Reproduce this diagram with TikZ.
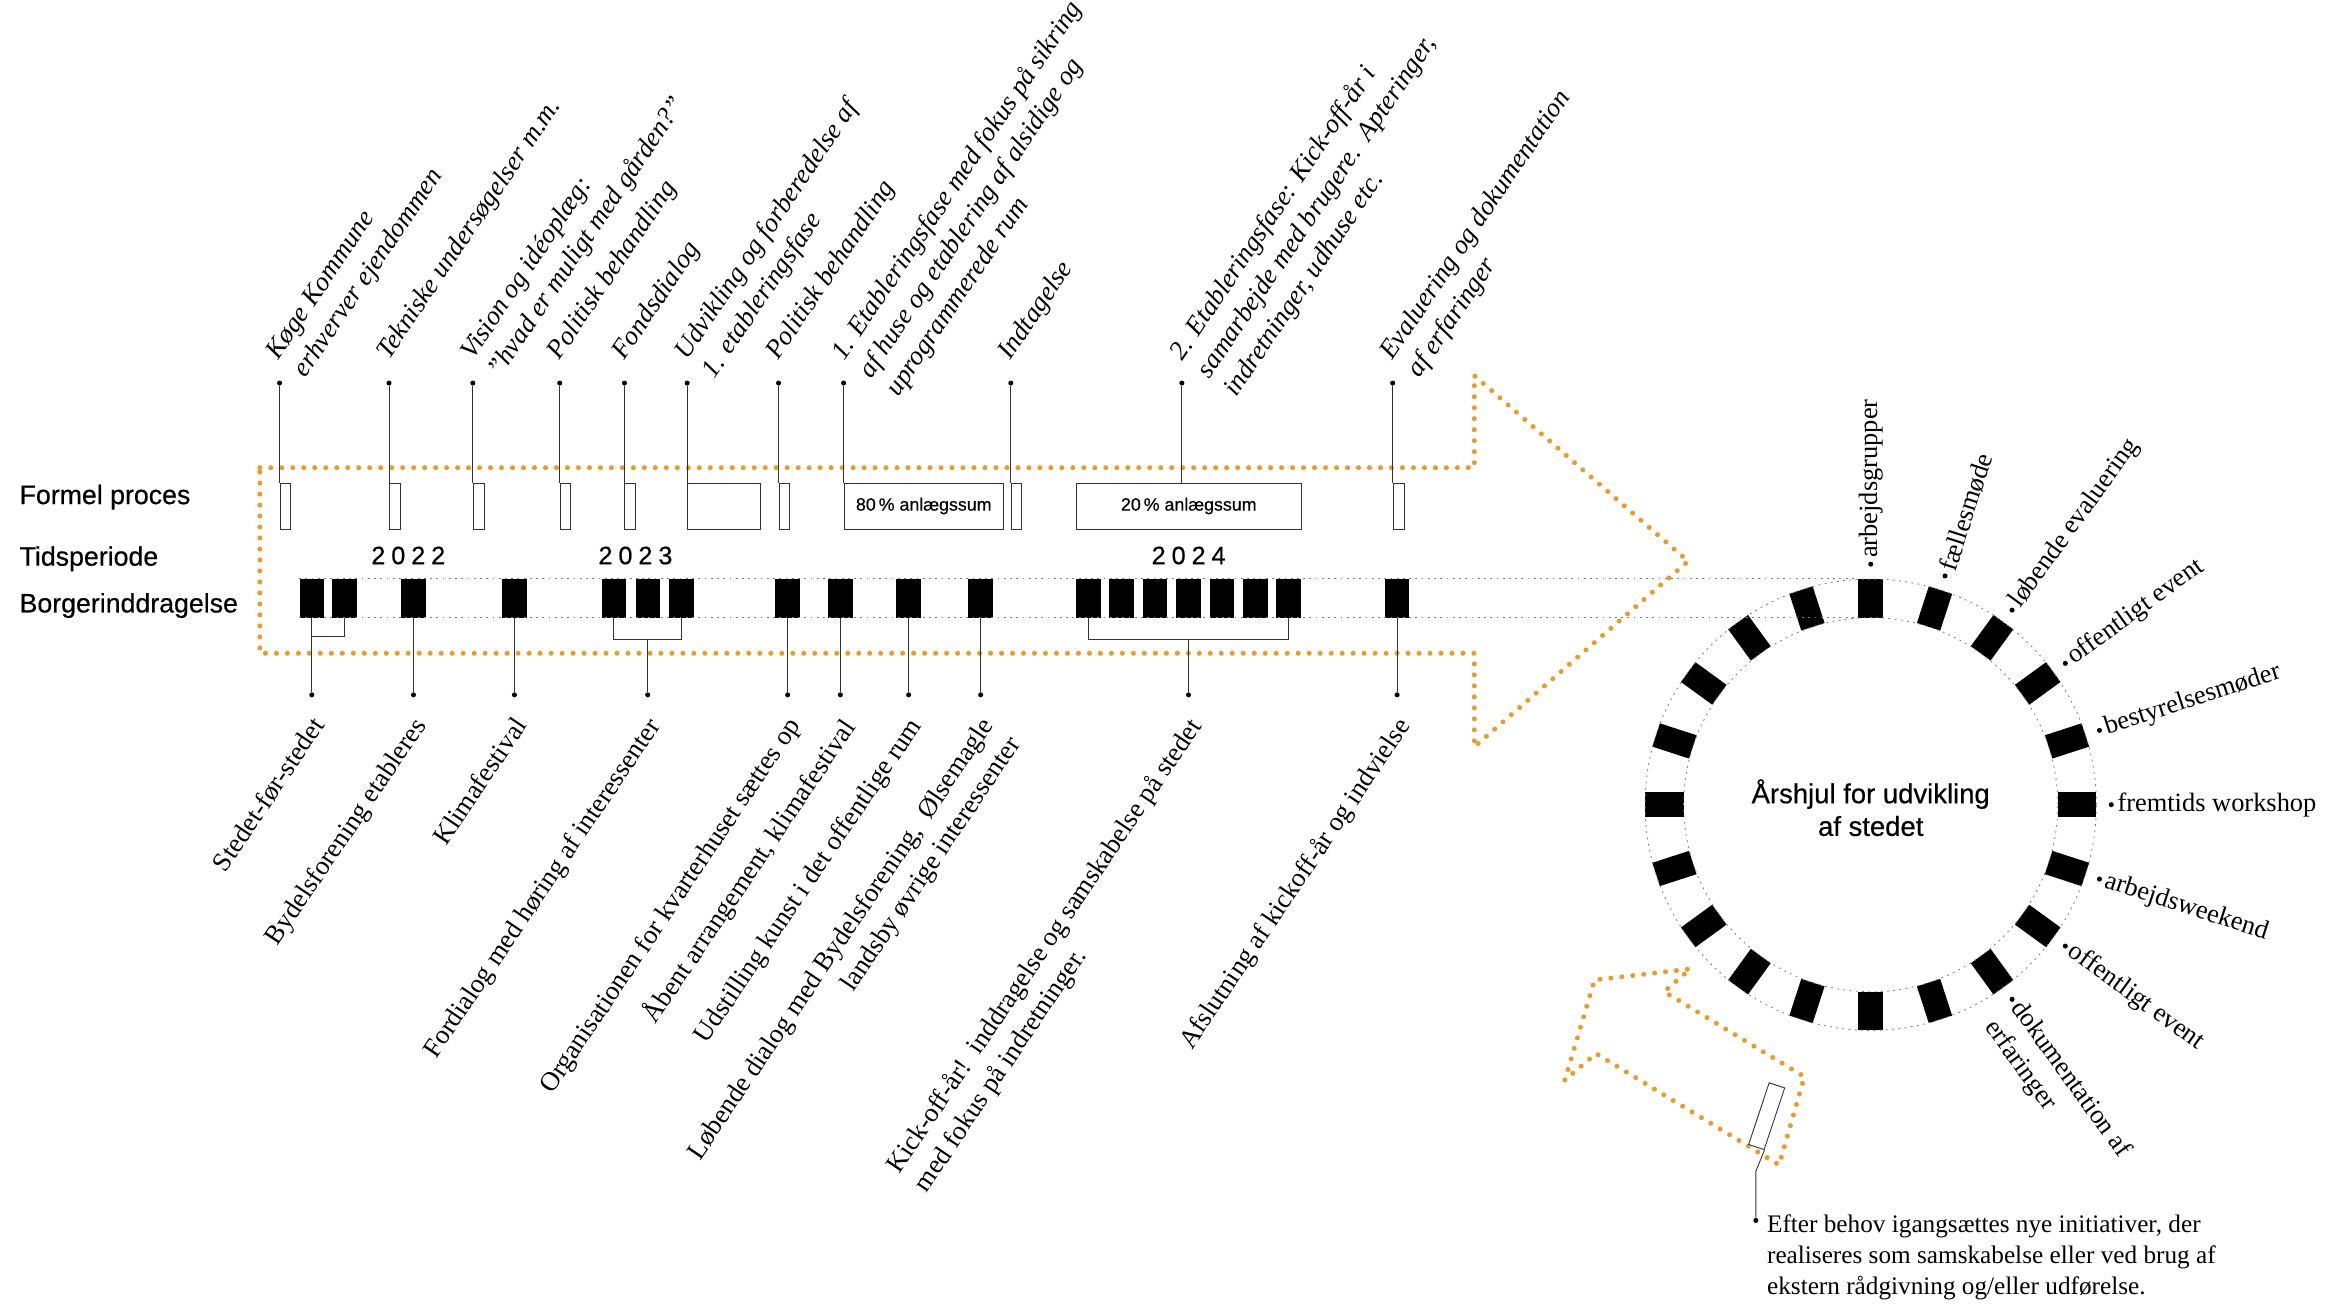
\documentclass[tikz,border=0pt]{standalone}
\usepackage{fontspec}
\setmainfont{Liberation Serif}
\newfontfamily\grotesk[FakeBold=0.5]{Liberation Sans}
\usetikzlibrary{calc}

\definecolor{arrowline}{RGB}{232,156,46}
\definecolor{liner}{gray}{0.2}

\tikzstyle{orange dots}=[draw=arrowline,line width=3.4pt,line cap=round,
    dash pattern=on 0pt off 7.4pt]
\tikzstyle{band line}=[draw=gray,line width=0.6pt,dash pattern=on 1.2pt off 3pt]
\tikzstyle{transition}=[draw=liner,line width=0.6pt]
\tikzstyle{proces box}=[draw=liner,line width=0.6pt,minimum height=31pt,
    inner sep=0pt,anchor=north west,font=\grotesk\fontsize{12}{14}\selectfont]
\tikzstyle{citizen block}=[fill,minimum width=16.5pt,minimum height=26pt,
    inner sep=0pt]
\tikzstyle{wheel block}=[fill,minimum width=26pt,minimum height=16.5pt,
    inner sep=0pt]
\tikzstyle{spot}=[fill,circle,inner sep=0pt,minimum size=3.4pt]
\tikzstyle{event label}=[rotate=56,inner sep=0pt,anchor=north west,align=left,
    font=\fontsize{18}{22}\selectfont\itshape]
\tikzstyle{citizen label}=[rotate=56,inner sep=0pt,anchor=north east,align=right,
    font=\fontsize{18}{22}\selectfont]
\tikzstyle{row label}=[anchor=base west,inner sep=0pt,
    font=\grotesk\fontsize{18}{22}\selectfont]
\tikzstyle{year label}=[anchor=base,inner sep=0pt,
    font=\grotesk\fontsize{17}{20}\selectfont]
\tikzstyle{wheel label}=[anchor=west,inner sep=0pt,
    font=\fontsize{17.8}{22}\selectfont]

\newcommand{\aarstal}[4]{#1\hspace{4pt}#2\hspace{4pt}#3\hspace{4pt}#4}
% [box text]{name}{x}{box width}{label}
\newcommand{\event}[5][]{
    \node[proces box,minimum width=#4pt] (#2) at (#3,325) {#1};
    \node[spot] (#2 spot) at (#3,258) {};
    \draw[transition] (#2 spot) -- (#2.north west);
    \node[event label] at ($(#2 spot)+(-10.5,-22)$) {#5};
}
% [options]{name}{from}{label}
\newcommand{\borger}[4][]{
    \node[spot] (#2) at (#3 |- spot row) {};
    \draw[transition] (#3) -- (#2);
    \node[citizen label,#1] at ($(#2)+(-1.5,13.5)$) {#4};
}

\begin{document}
\begin{tikzpicture}[x=1pt,y=-1pt]
    \useasboundingbox (0,0) rectangle (1568,880);
    %
    \draw[orange dots] (175,315) -- (993,315) -- (993,253) -- (1137,378)
        -- (993,503) -- (993,440) -- (175,440) -- cycle;
    \draw[orange dots] (1054,727.4) -- (1074,660) -- (1138.5,652.6)
        -- (1120.8,667.9) -- (1215.3,725.2) -- (1198.3,784.6)
        -- (1075,709.6) -- cycle;
    %
    \node[row label] (formel) at (13,339.5) {Formel proces};
    \node[row label] (tid) at (13,381) {Tidsperiode};
    \node[row label] (borger) at (13,412.5) {Borgerinddragelse};
    \node[year label] (y2022) at (275,380) {\aarstal2022};
    \node[year label] (y2023) at (428,380) {\aarstal2023};
    \node[year label] (y2024) at (800.6,380) {\aarstal2024};
    %
    \event{koege}{188.3}{7.2}{Køge Kommune\\erhverver ejendommen}
    \event{tekniske}{262}{7.2}{Tekniske undersøgelser m.m.}
    \event{vision}{318.5}{7.2}{Vision og idéoplæg:\\”hvad er muligt med gården?”}
    \event{politisk}{377}{7}{Politisk behandling}
    \event{fonds}{420.6}{7.2}{Fondsdialog}
    \event{udvikling}{462.8}{49.2}{Udvikling og forberedelse af\\1. etableringsfase}
    \event{politisk2}{524.4}{6.8}{Politisk behandling}
    \event[80\,\% anlægssum]{etape1}{568.2}{107.4}{1. Etableringsfase med fokus på sikring\\af huse og etablering af alsidige og\\uprogrammerede rum}
    \event{indtagelse}{680.8}{7.2}{Indtagelse}
    \event{evaluering}{938}{7.3}{Evaluering og dokumentation\\af erfaringer}
    \node[proces box,minimum width=151.6pt] (etape2) at (724.6,325) {20\,\% anlægssum};
    \node[spot] (etape2 spot) at (796,258) {};
    \draw[transition] (etape2 spot) -- (etape2 spot |- etape2.north);
    \node[event label] at ($(etape2 spot)+(-10.5,-22)$) {2. Etableringsfase: Kick-off-år i\\samarbejde med brugere.\ \ Apteringer,\\indretninger, udhuse etc.};
    %
    \coordinate (W) at (1260,542);
    \foreach \x [count=\i] in {210,232,278.5,346.5,413.5,436.5,459,530.5,566,
        612,660.5,733,755.5,778,800.5,823,845.5,868,941}
        \node[citizen block] (b\i) at (\x,403) {};
    \foreach \a in {0,18,...,342}
        \node[wheel block,rotate=\a] (w\a) at ($(W)+(\a:139pt)$) {};
    \draw[band line] (b1.north west) -- (w90.north east);
    \draw[band line] (b1.south west) -- (w90.north west);
    \draw[band line] (W) circle[radius=152pt];
    \draw[band line] (W) circle[radius=126pt];
    %
    \coordinate (spot row) at (0,468);
    \coordinate (fork b) at ($(b5.south)!0.5!(b7.south)+(0,14.5)$);
    \coordinate (fork c) at ($(b12.south)!0.5!(b18.south)+(0,14.5)$);
    \draw[transition] (b2.south) -- ++(0,12.5) -| (b1.south);
    \draw[transition] (b5.south) -- ++(0,14.5) -| (b7.south);
    \draw[transition] (b12.south) -- ++(0,14.5) -| (b18.south);
    \borger{stedet}{b1.south}{Stedet-før-stedet}
    \borger{bydels}{b3.south}{Bydelsforening etableres}
    \borger{klima}{b4.south}{Klimafestival}
    \borger{fordialog}{fork b}{Fordialog med høring af interessenter}
    \borger{organisation}{b8.south}{Organisationen for kvarterhuset sættes op}
    \borger{aabent}{b9.south}{Åbent arrangement, klimafestival}
    \borger{udstilling}{b10.south}{Udstilling kunst i det offentlige rum}
    \borger{loebende}{b11.south}{Løbende dialog med Bydelsforening,\ \ Ølsemagle\\landsby øvrige interessenter}
    \borger[align=left]{kickoff}{fork c}{Kick-off-år!\ \ inddragelse og samskabelse på stedet\\med fokus på indretninger.}
    \borger{afslutning}{b19.south}{Afslutning af kickoff-år og indvielse}
    %
    \node[font=\grotesk\fontsize{18.5}{22}\selectfont,align=center] (hjul)
        at ($(W)+(0,2)$) {Årshjul for udvikling\\af stedet};
    \foreach \a/\txt in {90/arbejdsgrupper,72/fællesmøde,54/løbende evaluering,
        36/offentligt event,18/bestyrelsesmøder,0/fremtids workshop,
        -18/arbejdsweekend,-36/offentligt event}{
        \node[spot] (dot\a) at ($(W)+(\a:162pt)$) {};
        \node[wheel label,rotate=\a] (lbl\a) at ($(W)+(\a:166pt)$) {\txt};
    }
    \node[spot] (dot-54) at ($(W)+(-54:162pt)$) {};
    \node[wheel label,rotate=-54,align=left] (lbl-54)
        at ($(W)+(-54:166pt)+(-144:11pt)$) {dokumentation af\\erfaringer};
    %
    \node[draw=liner,line width=0.6pt,inner sep=0pt,minimum width=43.8pt,
        minimum height=11pt,rotate=71.6] (initiativ) at (1189.9,751.8) {};
    \node[spot] (efter spot) at (1182.6,822) {};
    \draw[transition] (efter spot) -- ++(0,-33) -- (initiativ.south west);
    \node[anchor=north west,align=left,inner sep=0pt,
        font=\fontsize{17}{21}\selectfont] (efter) at (1190,818)
        {Efter behov igangsættes nye initiativer, der\\realiseres som samskabelse eller ved brug af\\ekstern rådgivning og/eller udførelse.};
\end{tikzpicture}
\end{document}
